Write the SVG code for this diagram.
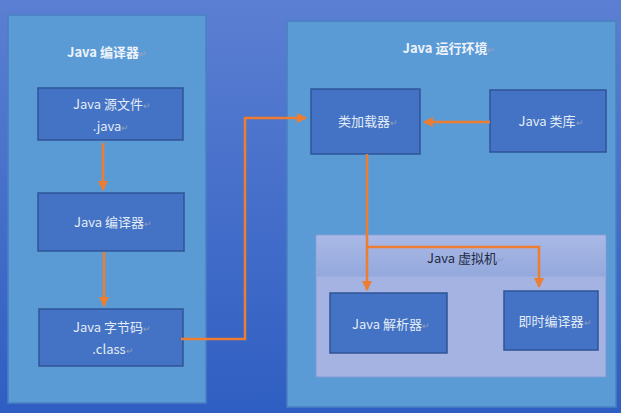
<svg xmlns="http://www.w3.org/2000/svg" width="621" height="413" viewBox="0 0 621 413">
<defs>
<linearGradient id="bg" x1="0" y1="0" x2="0" y2="1">
<stop offset="0" stop-color="#5b7fd2"/>
<stop offset="1" stop-color="#2f5ec2"/>
</linearGradient>
<linearGradient id="jvmh" x1="0" y1="0" x2="0" y2="1">
<stop offset="0" stop-color="#aab9e6"/>
<stop offset="1" stop-color="#93a8dc"/>
</linearGradient>
<marker id="ah" viewBox="0 0 10 10" refX="9" refY="5" markerWidth="4" markerHeight="4" orient="auto" markerUnits="strokeWidth">
<path d="M0,0 L10,5 L0,10 z" fill="#ed7d31"/>
</marker>
<style>
.panel{fill:#5b9bd5;stroke:#4a80c2;stroke-width:1.5}
.box{fill:#4472c4;stroke:#2f5597;stroke-width:1.5}
.t{font-family:"Noto Sans CJK SC","Liberation Sans",sans-serif;font-size:13px;fill:#e2ecf6;text-anchor:middle}
.h{font-family:"Noto Sans CJK SC","Liberation Sans",sans-serif;font-size:13px;font-weight:bold;fill:#eef3fb;text-anchor:middle}
.d{font-family:"Noto Sans CJK SC","Liberation Sans",sans-serif;font-size:13px;fill:#1f2a44;text-anchor:middle}
.m{fill:#8da0c0;font-size:9px}
.c{fill:none;stroke:#ed7d31;stroke-width:2.5}
</style>
</defs>
<rect width="621" height="413" fill="url(#bg)"/>
<text x="20" y="212" font-family="Liberation Sans,sans-serif" font-size="9" fill="#7f95c0">↵</text>
<g id="compiler-panel">
<rect class="panel" x="8" y="15" width="198" height="388"/>
<text class="h" x="107" y="57">Java 编译器<tspan class="m">↵</tspan></text>
</g>
<g id="runtime-panel">
<rect class="panel" x="287" y="21" width="329" height="386"/>
<text class="h" x="449" y="53">Java 运行环境<tspan class="m">↵</tspan></text>
</g>
<g id="jvm">
<rect x="316" y="235" width="290" height="142" fill="#a4b3e2" stroke="#7f9ad6" stroke-width="1"/>
<rect x="316.5" y="235.5" width="289" height="41" fill="url(#jvmh)"/>
<text class="d" x="466" y="263">Java 虚拟机<tspan class="m">↵</tspan></text>
</g>
<g id="source">
<rect class="box" x="38" y="88" width="145" height="52"/>
<text class="t" x="112" y="109">Java 源文件<tspan class="m">↵</tspan></text>
<text class="t" x="111" y="131">.java<tspan class="m">↵</tspan></text>
</g>
<g id="javac">
<rect class="box" x="38" y="193" width="146" height="58"/>
<text class="t" x="113" y="227">Java 编译器<tspan class="m">↵</tspan></text>
</g>
<g id="bytecode">
<rect class="box" x="39" y="309" width="144" height="57"/>
<text class="t" x="112" y="332">Java 字节码<tspan class="m">↵</tspan></text>
<text class="t" x="113" y="354">.class<tspan class="m">↵</tspan></text>
</g>
<g id="classloader">
<rect class="box" x="311" y="89" width="109" height="65"/>
<text class="t" x="368" y="126">类加载器<tspan class="m">↵</tspan></text>
</g>
<g id="classlib">
<rect class="box" x="490" y="90" width="116" height="62"/>
<text class="t" x="551" y="126">Java 类库<tspan class="m">↵</tspan></text>
</g>
<g id="interpreter">
<rect class="box" x="330" y="293" width="117" height="60"/>
<text class="t" x="391" y="329">Java 解析器<tspan class="m">↵</tspan></text>
</g>
<g id="jit">
<rect class="box" x="504" y="291" width="94" height="59"/>
<text class="t" x="555" y="326">即时编译器<tspan class="m">↵</tspan></text>
</g>
<g id="connectors">
<path class="c" d="M103,143 V190" marker-end="url(#ah)"/>
<path class="c" d="M104,252 V306" marker-end="url(#ah)"/>
<path class="c" d="M181,339 H245 V118 H306" marker-end="url(#ah)"/>
<path class="c" d="M490,122 H424" marker-end="url(#ah)"/>
<path class="c" d="M367,154 V290" marker-end="url(#ah)"/>
<path class="c" d="M367,247 H539 V287" marker-end="url(#ah)"/>
</g>
</svg>
